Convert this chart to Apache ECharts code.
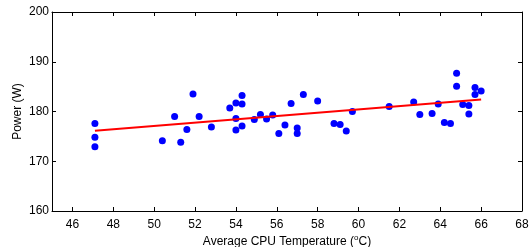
<!DOCTYPE html>
<html>
<head>
<meta charset="utf-8">
<script src="https://cdn.jsdelivr.net/npm/echarts@6/dist/echarts.min.js"></script>
<style>
  html, body { margin: 0; padding: 0; background: #fff; }
  #chart { width: 531px; height: 247px; }
</style>
</head>
<body>
<div id="chart"></div>
<script>
// Measured samples: average CPU temperature (C) vs power (W)
const tempC = [
  47.1, 47.1, 47.1, 50.4, 51.0, 51.3, 51.6, 51.9, 52.2, 52.8,
  53.7, 54.0, 54.3, 54.3, 54.0, 54.0, 54.3, 54.9, 55.2, 55.5,
  55.8, 56.1, 56.4, 56.7, 57.0, 57.0, 57.3, 58.0, 58.8, 59.1,
  59.4, 59.7, 61.5, 62.7, 63.0, 63.6, 63.9, 64.2, 64.5, 64.8,
  64.8, 65.1, 65.4, 65.4, 65.7, 65.7, 66.0
];
const powerW = [
  177.6, 174.8, 172.9, 174.1, 179.0, 173.8, 176.4, 183.5, 179.0, 176.9,
  180.7, 181.7, 183.2, 181.5, 178.6, 176.3, 177.1, 178.4, 179.4, 178.5,
  179.3, 175.6, 177.3, 181.6, 176.7, 175.6, 183.4, 182.1, 177.6, 177.4,
  176.1, 180.0, 181.0, 181.9, 179.4, 179.6, 181.5, 177.8, 177.6, 187.7,
  185.1, 181.4, 181.2, 179.5, 184.8, 183.4, 184.1
];

// Linear fit end points
const fitX = [47.1, 66.0];
const fitY = [176.15, 182.4];

const xTicks = [46, 48, 50, 52, 54, 56, 58, 60, 62, 64, 66, 68];
const yTicks = [160, 170, 180, 190, 200];

const font = 'Liberation Sans, Arial, Helvetica, sans-serif';

function makeAxisBase() {
    return {
        axisLine: { show: true, onZero: false, lineStyle: { color: '#000', width: 1 } },
        axisTick: { show: true, inside: true, length: 4, lineStyle: { color: '#000' } },
        splitLine: { show: false }
    };
}

const chart = echarts.init(document.getElementById('chart'));

const option = {
    animation: false,
    grid: { left: 52, right: 9, top: 12, bottom: 36, outerBoundsMode: 'none', containLabel: false },
    xAxis: [
        Object.assign(makeAxisBase(), {
            type: 'value', min: 45, max: 68,
            axisLabel: {
                color: '#000', fontSize: 12, fontFamily: font, margin: 8,
                customValues: xTicks
            },
            name: 'Average CPU Temperature ({sup|o}C)',
            nameLocation: 'middle', nameGap: 23, nameMoveOverlap: false,
            nameTextStyle: {
                color: '#000', fontSize: 12, fontFamily: font,
                rich: { sup: { fontSize: 8, verticalAlign: 'top', padding: [0, 0, 7, 0], fontFamily: font, color: '#000' } }
            }
        }),
        Object.assign(makeAxisBase(), {
            type: 'value', min: 45, max: 68, position: 'top',
            axisLabel: { show: false }
        })
    ],
    yAxis: [
        Object.assign(makeAxisBase(), {
            type: 'value', min: 160, max: 200,
            axisLabel: { color: '#000', fontSize: 12, fontFamily: font, margin: 3, customValues: yTicks },
            name: 'Power (W)', nameLocation: 'middle', nameGap: 28, nameRotate: 90, nameMoveOverlap: false,
            nameTextStyle: { color: '#000', fontSize: 12, fontFamily: font }
        }),
        Object.assign(makeAxisBase(), {
            type: 'value', min: 160, max: 200, position: 'right',
            axisLabel: { show: false }
        })
    ],
    series: [
        {
            type: 'scatter',
            symbol: 'circle',
            symbolSize: 7,
            itemStyle: { color: '#0000ff', opacity: 1 },
            data: tempC.map((t, i) => [t, powerW[i]]),
            z: 3
        },
        {
            type: 'line',
            symbol: 'none',
            lineStyle: { color: '#ff0000', width: 2 },
            data: fitX.map((t, i) => [t, fitY[i]]),
            z: 4
        }
    ]
};

// ticks on all four sides at the labelled values
option.xAxis[0].axisTick.customValues = xTicks;
option.xAxis[1].axisTick.customValues = xTicks;
option.yAxis[0].axisTick.customValues = yTicks;
option.yAxis[1].axisTick.customValues = yTicks;

chart.setOption(option);
</script>
</body>
</html>
